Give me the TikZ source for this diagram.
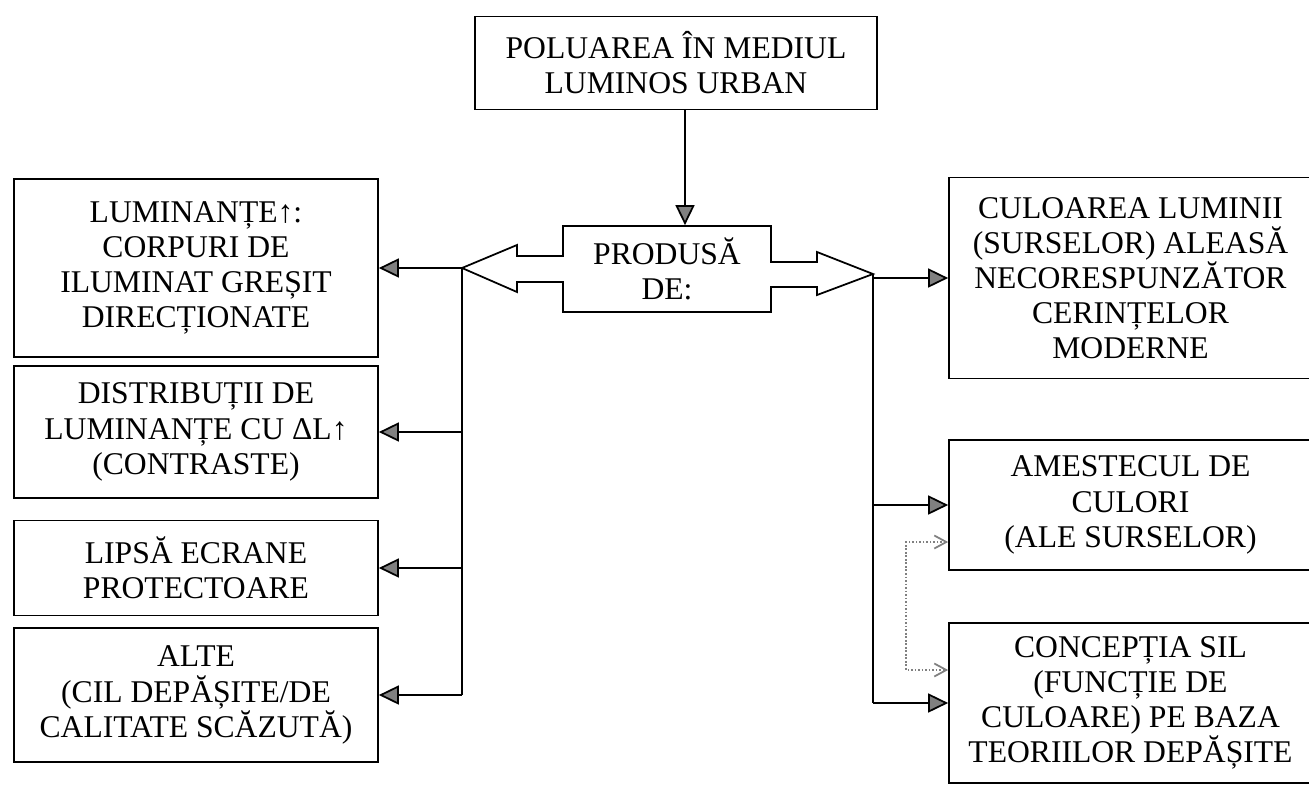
\documentclass[tikz,border=0pt]{standalone}
\usepackage{fontspec}
\setmainfont{Liberation Serif}
\usetikzlibrary{arrows.meta,calc,positioning}

\tikzset{
  box/.style={draw, line width=1pt, align=center, inner sep=0pt,
              font=\fontsize{18}{20}\selectfont},
  lbox/.style={box, minimum width=7.28cm},
  rbox/.style={box, minimum width=7.26cm},
  arr/.style={-{Triangle[length=0.4cm,width=0.38cm,fill=gray]}, line width=1pt},
  dotarr/.style={{Straight Barb[length=0.24cm,width=0.26cm]}-{Straight Barb[length=0.24cm,width=0.26cm]},
                 gray, densely dotted, line width=1pt}
}

\begin{document}
\begin{tikzpicture}[x=0.02cm, y=-0.02cm, line width=1pt]
  \useasboundingbox (0,0) rectangle (1309,785);

  \node[box, minimum width=8.04cm, minimum height=1.86cm] (top) at (676,63)
    {POLUAREA ÎN MEDIUL\\LUMINOS URBAN};

  \node[align=center, inner sep=0pt, minimum width=4.16cm, minimum height=1.72cm,
        font=\fontsize{18}{20}\selectfont] (prod) at (667,269) {PRODUSĂ\\DE:};

  \path (462,268) coordinate (ltip)
        (873,274) coordinate (rtip);

  \draw (563,226) -- (563,256) -- (517,256) -- (517,245) -- (ltip)
        -- (517,292) -- (517,282) -- (563,282) -- (563,312)
        -- (771,312) -- (771,287) -- (817,287) -- (817,295) -- (rtip)
        -- (817,252) -- (817,262) -- (771,262) -- (771,226) -- cycle;

  \draw[arr] ($(top.south)+(9,0)$) -- ($(top.south |- prod.north)+(9,0)$);

  % left side
  \node[lbox, minimum height=3.56cm] (L1) at (196,268)
    {LUMINANȚE↑:\\CORPURI DE\\ILUMINAT GREȘIT\\DIRECȚIONATE};
  \node[lbox, minimum height=2.64cm] (L2) at (196,432)
    {DISTRIBUȚII DE\\LUMINANȚE CU ΔL↑\\(CONTRASTE)};
  \node[lbox, minimum height=1.9cm] (L3) at (196,568)
    {LIPSĂ ECRANE\\PROTECTOARE};
  \node[lbox, minimum height=2.68cm] (L4) at (196,695)
    {ALTE\\(CIL DEPĂȘITE/DE\\CALITATE SCĂZUTĂ)};

  \draw (ltip) -- (ltip |- L4.east);
  \foreach \b in {L1,L2,L3,L4}
    \draw[arr] (ltip |- \b.east) -- (\b.east);

  % right side
  \node[rbox, minimum height=4.02cm] (R1) at (1130.5,278)
    {CULOAREA LUMINII\\(SURSELOR) ALEASĂ\\NECORESPUNZĂTOR\\CERINȚELOR\\MODERNE};
  \node[rbox, minimum height=2.6cm] (R2) at (1130.5,505)
    {AMESTECUL DE\\CULORI\\(ALE SURSELOR)};
  \node[rbox, minimum height=3.2cm] (R3) at (1130.5,703)
    {CONCEPȚIA SIL\\(FUNCȚIE DE\\CULOARE) PE BAZA\\TEORIILOR DEPĂȘITE};

  \draw (rtip) -- (rtip |- R3.west);
  \foreach \b in {R1,R2,R3}
    \draw[arr] (rtip |- \b.west) -- (\b.west);

  \draw[dotarr] ($(R2.west)+(0,37)$) -- ++(-42,0) |- ($(R3.west)+(0,-33)$);

\end{tikzpicture}
\end{document}
